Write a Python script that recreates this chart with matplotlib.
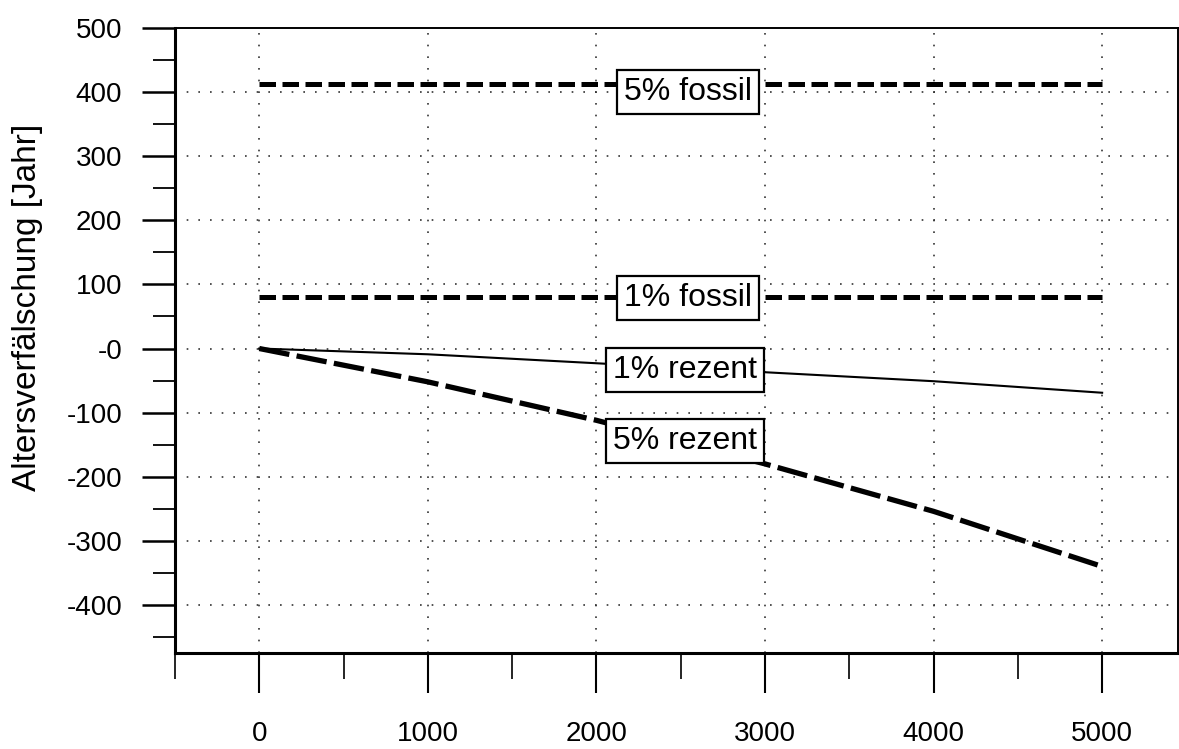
import matplotlib
matplotlib.use("Agg")
import matplotlib.pyplot as plt
from matplotlib.ticker import MultipleLocator

plt.rcParams['font.family'] = ['Liberation Sans', 'DejaVu Sans']

# Data
alter = [0, 1000, 2000, 3000, 4000, 5000]
fossil_5 = [412, 412, 412, 412, 412, 412]
fossil_1 = [80, 80, 80, 80, 80, 80]
rezent_1 = [0, -9, -23, -37, -51, -69]
rezent_5 = [0, -52, -112, -180, -254, -340]

y_ticks = [-400, -300, -200, -100, 0, 100, 200, 300, 400, 500]
y_labels = ['-400', '-300', '-200', '-100', '-0', '100', '200', '300', '400', '500']
x_ticks = [0, 1000, 2000, 3000, 4000, 5000]

fig = plt.figure(figsize=(11.79, 7.49), dpi=100)
ax = fig.add_axes([175 / 1179, 1 - 653 / 749, 1003 / 1179, 625 / 749])

ax.plot(alter, fossil_5, color='black', lw=3.6, linestyle=(0, (3.3, 1.3)))
ax.plot(alter, fossil_1, color='black', lw=3.6, linestyle=(0, (3.3, 1.3)))
ax.plot(alter, rezent_1, color='black', lw=1.5, linestyle='-')
ax.plot(alter, rezent_5, color='black', lw=3.8, linestyle=(0, (5.8, 1.4)))

# labels on the curves
box = dict(boxstyle='square,pad=0.22', facecolor='white', edgecolor='black', linewidth=1.6)
ax.text(2545, 400, '5% fossil', fontsize=23, ha='center', va='center', bbox=box)
ax.text(2545, 79, '1% fossil', fontsize=23, ha='center', va='center', bbox=box)
ax.text(2527, -33, '1% rezent', fontsize=23, ha='center', va='center', bbox=box)
ax.text(2527, -145, '5% rezent', fontsize=23, ha='center', va='center', bbox=box)

ax.set_xlim(-500, 5450)
ax.set_ylim(-475, 500)

ax.set_xticks(x_ticks)
ax.set_xticklabels([str(v) for v in x_ticks])
ax.set_yticks(y_ticks)
ax.set_yticklabels(y_labels)
ax.xaxis.set_minor_locator(MultipleLocator(500))
ax.yaxis.set_minor_locator(MultipleLocator(50))

ax.tick_params(axis='y', which='major', direction='out', length=24, width=1.8,
               labelsize=20, pad=14)
ax.tick_params(axis='y', which='minor', direction='out', length=16, width=1.3)
ax.tick_params(axis='x', which='major', direction='out', length=29, width=1.5,
               labelsize=20, pad=20)
ax.tick_params(axis='x', which='minor', direction='out', length=19, width=1.2)

# dotted grid at major ticks
for v in x_ticks:
    ax.axvline(v, color='#333333', lw=1.2, linestyle=(0, (1, 6)), zorder=0)
for v in y_ticks[:-1]:
    ax.axhline(v, color='#333333', lw=1.2, linestyle=(0, (1, 6)), zorder=0)

ax.spines['left'].set_linewidth(2.2)
ax.spines['bottom'].set_linewidth(2.2)
ax.spines['top'].set_linewidth(1.4)
ax.spines['right'].set_linewidth(1.4)

ax.set_ylabel('Altersverfälschung [Jahr]', fontsize=24, va='center')
ax.yaxis.set_label_coords(-0.147, 0.553)

fig.savefig('out.png', dpi=100)
